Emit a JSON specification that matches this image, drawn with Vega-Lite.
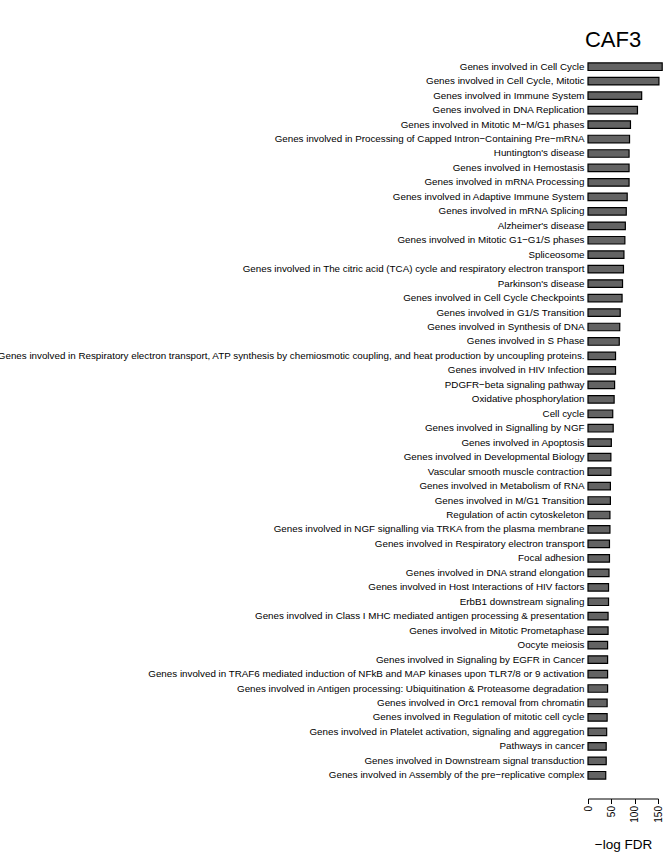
{
  "$schema": "https://vega.github.io/schema/vega-lite/v6.json",
  "autosize": {"type": "none"},
  "padding": {"left": 588, "top": 59.5, "right": 14, "bottom": 71.5},
  "width": 70,
  "height": 723,
  "background": "white",
  "title": {"text": "CAF3", "fontSize": 22, "font": "Liberation Sans", "fontWeight": "normal", "color": "black", "offset": 8, "dx": -10},
  "config": {"view": {"stroke": null}, "font": "Liberation Sans"},
  "data": {"values": [
    {"pathway": "Genes involved in Cell Cycle", "v": 159},
    {"pathway": "Genes involved in Cell Cycle, Mitotic", "v": 152},
    {"pathway": "Genes involved in Immune System", "v": 115},
    {"pathway": "Genes involved in DNA Replication", "v": 106},
    {"pathway": "Genes involved in Mitotic M−M/G1 phases", "v": 91},
    {"pathway": "Genes involved in Processing of Capped Intron−Containing Pre−mRNA", "v": 89},
    {"pathway": "Huntington's disease", "v": 88},
    {"pathway": "Genes involved in Hemostasis", "v": 88},
    {"pathway": "Genes involved in mRNA Processing", "v": 88},
    {"pathway": "Genes involved in Adaptive Immune System", "v": 84},
    {"pathway": "Genes involved in mRNA Splicing", "v": 82},
    {"pathway": "Alzheimer's disease", "v": 80},
    {"pathway": "Genes involved in Mitotic G1−G1/S phases", "v": 79},
    {"pathway": "Spliceosome", "v": 77},
    {"pathway": "Genes involved in The citric acid (TCA) cycle and respiratory electron transport", "v": 76},
    {"pathway": "Parkinson's disease", "v": 74},
    {"pathway": "Genes involved in Cell Cycle Checkpoints", "v": 73},
    {"pathway": "Genes involved in G1/S Transition", "v": 69},
    {"pathway": "Genes involved in Synthesis of DNA", "v": 68},
    {"pathway": "Genes involved in S Phase", "v": 67},
    {"pathway": "Genes involved in Respiratory electron transport, ATP synthesis by chemiosmotic coupling, and heat production by uncoupling proteins.", "v": 59},
    {"pathway": "Genes involved in HIV Infection", "v": 59},
    {"pathway": "PDGFR−beta signaling pathway", "v": 57},
    {"pathway": "Oxidative phosphorylation", "v": 56},
    {"pathway": "Cell cycle", "v": 53},
    {"pathway": "Genes involved in Signalling by NGF", "v": 54},
    {"pathway": "Genes involved in Apoptosis", "v": 50},
    {"pathway": "Genes involved in Developmental Biology", "v": 49},
    {"pathway": "Vascular smooth muscle contraction", "v": 49},
    {"pathway": "Genes involved in Metabolism of RNA", "v": 48},
    {"pathway": "Genes involved in M/G1 Transition", "v": 48},
    {"pathway": "Regulation of actin cytoskeleton", "v": 47},
    {"pathway": "Genes involved in NGF signalling via TRKA from the plasma membrane", "v": 47},
    {"pathway": "Genes involved in Respiratory electron transport", "v": 46},
    {"pathway": "Focal adhesion", "v": 46},
    {"pathway": "Genes involved in DNA strand elongation", "v": 45},
    {"pathway": "Genes involved in Host Interactions of HIV factors", "v": 44},
    {"pathway": "ErbB1 downstream signaling", "v": 44},
    {"pathway": "Genes involved in Class I MHC mediated antigen processing & presentation", "v": 43},
    {"pathway": "Genes involved in Mitotic Prometaphase", "v": 43},
    {"pathway": "Oocyte meiosis", "v": 42},
    {"pathway": "Genes involved in Signaling by EGFR in Cancer", "v": 42},
    {"pathway": "Genes involved in TRAF6 mediated induction of NFkB and MAP kinases upon TLR7/8 or 9 activation", "v": 42},
    {"pathway": "Genes involved in Antigen processing: Ubiquitination & Proteasome degradation", "v": 42},
    {"pathway": "Genes involved in Orc1 removal from chromatin", "v": 41},
    {"pathway": "Genes involved in Regulation of mitotic cell cycle", "v": 41},
    {"pathway": "Genes involved in Platelet activation, signaling and aggregation", "v": 40},
    {"pathway": "Pathways in cancer", "v": 39},
    {"pathway": "Genes involved in Downstream signal transduction", "v": 39},
    {"pathway": "Genes involved in Assembly of the pre−replicative complex", "v": 38}
  ]},
  "mark": {"type": "bar", "fill": "#636363", "stroke": "black", "strokeWidth": 1.2, "clip": false},
  "encoding": {
    "y": {
      "field": "pathway", "type": "nominal", "sort": null,
      "scale": {"paddingInner": 0.48, "paddingOuter": 0.24},
      "axis": {"title": null, "domain": false, "ticks": false, "labelPadding": 4, "labelFontSize": 9.8, "labelColor": "black", "labelLimit": 1000}
    },
    "x": {
      "field": "v", "type": "quantitative",
      "scale": {"domain": [0, 150], "nice": false, "zero": true},
      "axis": {"title": "−log FDR", "titleFontSize": 13.5, "titleFontWeight": "normal", "titleColor": "black", "titlePadding": 15,
        "values": [0, 50, 100, 150], "grid": false, "offset": 16, "domainColor": "black", "domainWidth": 1, "tickColor": "black", "tickSize": 5,
        "labelAngle": 270, "labelFontSize": 10, "labelColor": "black", "labelPadding": 2, "labelFlush": false}
    }
  }
}
